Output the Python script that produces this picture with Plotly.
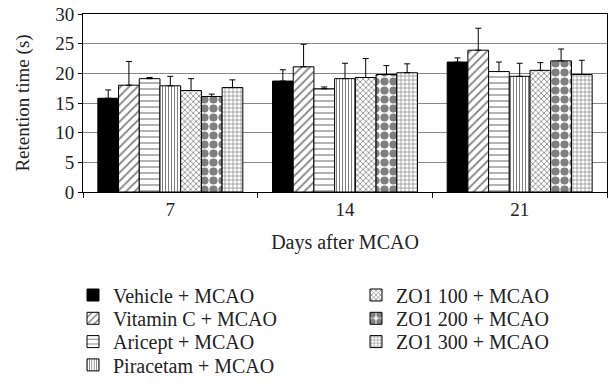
import plotly.graph_objects as go

days = ["7", "14", "21"]
series_names = ["Vehicle + MCAO", "Vitamin C + MCAO", "Aricept + MCAO", "Piracetam + MCAO",
                "ZO1 100 + MCAO", "ZO1 200 + MCAO", "ZO1 300 + MCAO"]
vehicle = [15.8, 18.7, 21.9]
vitamin_c = [18.0, 21.1, 23.9]
aricept = [19.1, 17.4, 20.3]
piracetam = [17.9, 19.1, 19.5]
zo1_100 = [17.1, 19.3, 20.5]
zo1_200 = [16.1, 19.8, 22.1]
zo1_300 = [17.6, 20.1, 19.8]
err_vehicle = [1.4, 1.9, 0.7]
err_vitamin_c = [4.0, 3.8, 3.7]
err_aricept = [0.2, 0.3, 1.6]
err_piracetam = [1.6, 2.6, 2.2]
err_zo1_100 = [2.0, 3.2, 1.3]
err_zo1_200 = [0.4, 1.5, 2.0]
err_zo1_300 = [1.3, 1.5, 2.4]

values = [vehicle, vitamin_c, aricept, piracetam, zo1_100, zo1_200, zo1_300]
errors = [err_vehicle, err_vitamin_c, err_aricept, err_piracetam, err_zo1_100, err_zo1_200, err_zo1_300]

patterns = [
    dict(shape="", fillmode="replace"),
    dict(shape="/", size=6, solidity=0.3, fgcolor="black", bgcolor="white"),
    dict(shape="-", size=6, solidity=0.2, fgcolor="black", bgcolor="white"),
    dict(shape="|", size=3, solidity=0.35, fgcolor="black", bgcolor="white"),
    dict(shape="x", size=4, solidity=0.35, fgcolor="black", bgcolor="white"),
    dict(shape=".", size=9, solidity=0.65, fgcolor="black", bgcolor="white"),
    dict(shape="+", size=4, solidity=0.3, fgcolor="black", bgcolor="white"),
]
colors = ["black"] + ["white"] * 6

FONT = "Liberation Serif"
W, H = 611, 389
ML, MR, MT, MB = 83, 4, 14, 197
plot_w = W - ML - MR
plot_h = H - MT - MB

def px_to_paper_x(px):
    return (px - ML) / plot_w

def px_to_paper_y(py):
    return (H - MB - py) / plot_h

fig = go.Figure()
legend_layouts = {}
for i, (name, vals, errs) in enumerate(zip(series_names, values, errors)):
    key = "legend" if i == 0 else f"legend{i + 1}"
    col = 0 if i < 4 else 1
    row = i if i < 4 else i - 4
    fig.add_trace(go.Bar(
        x=days, y=vals, name=name, showlegend=True,
        marker=dict(color=colors[i], line=dict(color="black", width=1), pattern=patterns[i]),
        error_y=dict(type="data", symmetric=False, array=errs, arrayminus=[0] * len(errs),
                     color="black", thickness=1, width=3),
        legend=key,
    ))
    legend_layouts[key] = dict(
        x=px_to_paper_x(73 if col == 0 else 356),
        y=px_to_paper_y(295 + row * 23.3),
        xanchor="left", yanchor="middle", bgcolor="rgba(0,0,0,0)",
        font=dict(family=FONT, size=20, color="#222"),
    )

fig.update_layout(
    width=W, height=H,
    margin=dict(l=ML, r=MR, t=MT, b=MB),
    paper_bgcolor="white", plot_bgcolor="white",
    font=dict(family=FONT, size=19, color="#222"),
    barmode="group", bargap=0.17, bargroupgap=0,
    showlegend=True,
    **legend_layouts,
)
fig.update_xaxes(
    title=dict(text="Days after MCAO", standoff=16, font=dict(size=20)),
    showline=True, linecolor="black", linewidth=1, mirror=True,
    ticks="outside", tickson="boundaries", ticklen=5, tickcolor="black",
    showgrid=False, automargin=False,
)
fig.update_yaxes(
    title=dict(text="Retention time (s)", standoff=20, font=dict(size=19)),
    range=[0, 30], dtick=5,
    showline=True, linecolor="black", linewidth=1, mirror=True,
    ticks="outside", ticklen=4, tickcolor="black",
    showgrid=True, gridcolor="#888", gridwidth=1, zeroline=False, automargin=False,
)
fig.write_html("out.html", config={"displayModeBar": False},
               post_script="document.body.style.margin='0';")
